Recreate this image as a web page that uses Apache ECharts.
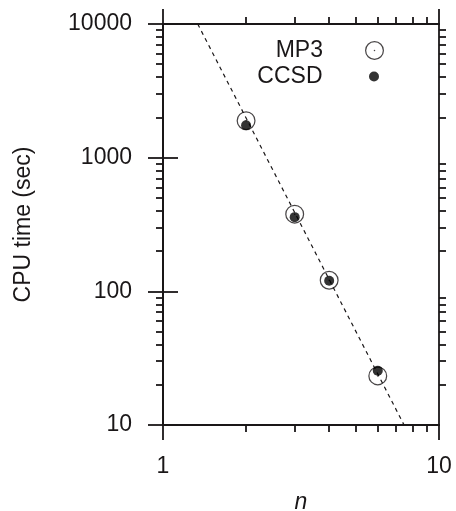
<!DOCTYPE html>
<html>
<head>
<meta charset="utf-8">
<script src="https://cdn.jsdelivr.net/npm/echarts@6/dist/echarts.min.js"></script>
<style>
html, body { margin: 0; padding: 0; background: #fff; }
#chart { width: 456px; height: 511px; }
</style>
</head>
<body>
<div id="chart"></div>
<script>
// values
let nValues = [2, 3, 4, 6]
let mp3Times = [1890, 378, 121, 23.3]
let ccsdTimes = [1750, 359, 120, 25.5]
// dashed guide line, slope about -4 on log-log
let fitN = [1.336, 7.47]
let fitTimes = [10000, 10]

// minor tick marks, kept in decades (log10) for the overlay axes
let xMinor = []
for (let k = 2; k <= 9; k++) xMinor.push(Math.log10(k))
let yMinor = []
for (let d = 1; d <= 3; d++) {
    for (let k = 2; k <= 9; k++) yMinor.push(d + Math.log10(k))
}

const ink = '#1a1718'
const font = 'Liberation Sans, Arial, Helvetica, sans-serif'
// circle with a dot in the middle
const ringDot = 'path://M0,-10A10,10,0,1,1,0,10A10,10,0,1,1,0,-10ZM0,-8.7A8.7,8.7,0,1,0,0,8.7A8.7,8.7,0,1,0,0,-8.7ZM-0.8,0A0.8,0.8,0,1,1,0.8,0A0.8,0.8,0,1,1,-0.8,0Z'

let mychart = echarts.init(document.getElementById('chart'))

let lineStyle = { color: ink, width: 1.8 }

// main log axes: decade ticks
let logAxis = (dim, pos, withLabels) => ({
    type: 'log',
    logBase: 10,
    position: pos,
    min: dim === 'x' ? 1 : 10,
    max: dim === 'x' ? 10 : 10000,
    splitLine: { show: false },
    minorTick: { show: false },
    axisLine: { show: true, lineStyle: lineStyle },
    axisTick: { show: true, inside: false, length: 15, lineStyle: lineStyle },
    axisLabel: {
        show: withLabels,
        color: ink,
        fontFamily: font,
        fontSize: 23,
        margin: dim === 'x' ? 30 : 31,
        formatter: (v) => String(Math.round(v))
    }
})

// overlay axes only for the short ticks between decades
let minorAxis = (dim, pos) => ({
    type: 'value',
    position: pos,
    min: dim === 'x' ? 0 : 1,
    max: dim === 'x' ? 1 : 4,
    splitLine: { show: false },
    axisLine: { show: true, lineStyle: lineStyle },
    axisTick: {
        show: true,
        inside: false,
        length: 7,
        customValues: dim === 'x' ? xMinor : yMinor,
        lineStyle: lineStyle
    },
    axisLabel: { show: false }
})

let xAxes = [
    logAxis('x', 'bottom', true),
    logAxis('x', 'top', false),
    minorAxis('x', 'bottom'),
    minorAxis('x', 'top')
]
xAxes[0].name = 'n'
xAxes[0].nameLocation = 'middle'
xAxes[0].nameGap = 66
xAxes[0].nameTextStyle = { color: ink, fontFamily: font, fontSize: 23, fontStyle: 'italic' }

let yAxes = [
    logAxis('y', 'left', true),
    logAxis('y', 'right', false),
    minorAxis('y', 'left'),
    minorAxis('y', 'right')
]
yAxes[0].name = 'CPU time (sec)'
yAxes[0].nameLocation = 'middle'
yAxes[0].nameGap = 128
yAxes[0].nameTextStyle = { color: ink, fontFamily: font, fontSize: 23 }

let legendCommon = {
    orient: 'vertical',
    align: 'right',
    itemWidth: 93,
    itemGap: 0,
    textStyle: { color: ink, fontFamily: font, fontSize: 23 },
    selectedMode: false
}

let options = {
    animation: false,
    backgroundColor: '#fff',
    grid: { left: 163, right: 17, top: 24, bottom: 86, containLabel: false, outerBoundsMode: 'none' },
    legend: [
        Object.assign({}, legendCommon, { data: ['MP3'], top: 34, right: 67, itemHeight: 19 }),
        Object.assign({}, legendCommon, { data: ['CCSD'], top: 60, right: 72, itemHeight: 10 })
    ],
    xAxis: xAxes,
    yAxis: yAxes,
    series: [
        {
            name: 'fit',
            type: 'line',
            data: fitN.map((n, i) => [n, fitTimes[i]]),
            showSymbol: false,
            symbol: 'none',
            lineStyle: { color: ink, width: 1.2, type: [4, 4] },
            z: 1
        },
        {
            name: 'MP3',
            type: 'scatter',
            data: nValues.map((n, i) => [n, mp3Times[i]]),
            symbol: ringDot,
            symbolSize: 19,
            itemStyle: { color: ink },
            z: 2
        },
        {
            name: 'CCSD',
            type: 'scatter',
            data: nValues.map((n, i) => [n, ccsdTimes[i]]),
            symbol: 'circle',
            symbolSize: 10,
            itemStyle: { color: '#000' },
            z: 3
        }
    ]
}

mychart.setOption(options)
window.addEventListener('resize', () => {
    mychart?.resize()
})
</script>
</body>
</html>
